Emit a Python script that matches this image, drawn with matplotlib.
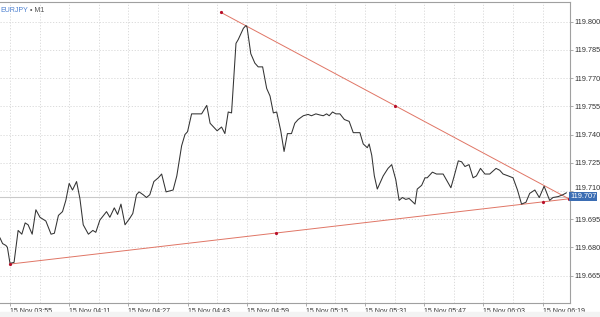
import pandas as pd
import matplotlib.pyplot as plt
import matplotlib.dates as mdates
import matplotlib.transforms as mtransforms
import numpy as np
from matplotlib.patches import Rectangle

# EURJPY M1 close (minutes after 15 Nov 03:55, price)
minutes = [-2.7, -2.0, -1.1, -0.7, 0.0, 1.1, 2.2, 3.2, 4.1, 4.9, 6.0, 7.0, 8.1, 9.7,
           11.1, 12.0, 13.1, 14.2, 15.1, 16.0, 16.9, 18.0, 18.9, 19.8, 21.2, 22.4,
           23.2, 24.3, 26.1, 27.0, 28.2, 29.1, 30.0, 31.1, 32.4, 33.2, 34.2, 34.9,
           36.0, 36.9, 37.8, 38.9, 40.1, 41.0, 42.2, 44.1, 45.1, 46.4, 47.3, 48.0,
           49.1, 51.8, 53.2, 54.1, 56.0, 57.2, 58.1, 59.0, 59.9, 61.1, 61.7, 63.1,
           63.8, 64.1, 65.1, 66.2, 67.1, 68.3, 69.4, 70.3, 71.2, 72.1, 73.2, 74.1,
           75.0, 76.1, 77.0, 77.9, 79.3, 80.6, 81.5, 82.7, 83.8, 84.7, 85.6, 86.3,
           87.2, 88.1, 89.2, 90.4, 91.7, 92.8, 94.6, 95.5, 96.6, 97.1, 97.8, 98.5,
           99.3, 100.9, 102.2, 103.2, 104.3, 105.2, 106.1, 107.0, 107.9, 109.5,
           110.1, 111.3, 112.2, 112.8, 114.2, 115.3, 117.1, 119.2, 120.1, 121.2,
           122.1, 123.0, 124.1, 125.2, 126.1, 127.2, 128.4, 129.7, 131.4, 132.4,
           133.3, 134.7, 136.0, 137.2, 138.3, 139.5, 140.5, 141.9, 143.1, 144.4,
           145.9, 146.8, 148.2, 149.5, 150.4]
prices = [119.685, 119.682, 119.681, 119.680, 119.6715, 119.672, 119.689, 119.687,
          119.693, 119.692, 119.687, 119.700, 119.696, 119.694, 119.687, 119.6875,
          119.697, 119.699, 119.705, 119.714, 119.7105, 119.715, 119.706, 119.692,
          119.687, 119.689, 119.688, 119.6945, 119.699, 119.696, 119.701, 119.6975,
          119.703, 119.692, 119.6955, 119.698, 119.708, 119.7095, 119.708, 119.7065,
          119.708, 119.715, 119.717, 119.719, 119.7095, 119.7105, 119.718, 119.734,
          119.740, 119.7415, 119.751, 119.751, 119.7555, 119.746, 119.742, 119.744,
          119.7405, 119.752, 119.7515, 119.7885, 119.7905, 119.7965, 119.798, 119.797,
          119.783, 119.778, 119.776, 119.776, 119.7645, 119.7605, 119.7515, 119.752,
          119.742, 119.731, 119.7405, 119.7405, 119.746, 119.748, 119.750, 119.7507,
          119.750, 119.751, 119.7504, 119.750, 119.751, 119.750, 119.752, 119.751,
          119.751, 119.748, 119.747, 119.741, 119.741, 119.735, 119.733, 119.735,
          119.729, 119.718, 119.711, 119.718, 119.722, 119.724, 119.716, 119.705,
          119.7065, 119.7055, 119.706, 119.703, 119.711, 119.713, 119.717, 119.717,
          119.720, 119.719, 119.719, 119.7117, 119.718, 119.726, 119.7255, 119.723,
          119.724, 119.717, 119.718, 119.722, 119.719, 119.719, 119.722, 119.721,
          119.719, 119.718, 119.717, 119.7105, 119.703, 119.704, 119.7087, 119.7105,
          119.7065, 119.7125, 119.705, 119.7065, 119.707, 119.708, 119.709]

# trendline anchors
upper_min = [57.0, 151.2]
upper_px = [119.805, 119.7057]
lower_min = [0.0, 144.1]
lower_px = [119.6711, 119.7042]

last_price = 119.707
yticks = [119.665, 119.680, 119.695, 119.710, 119.725, 119.740, 119.755, 119.770, 119.785, 119.800]

t0 = pd.Timestamp('2016-11-15 03:55')
t = t0 + pd.to_timedelta(minutes, unit='min')
to_t = lambda m: t0 + pd.to_timedelta(np.asarray(m), unit='min')

fig = plt.figure(figsize=(6, 3.17), dpi=100)
fig.patches.append(Rectangle((0, 0), 1, 5 / 317, transform=fig.transFigure,
                             color='#f3f3f3', zorder=0))
ax = fig.add_axes([0, 14 / 317, 570 / 600, 301 / 317])

ax.set_xlim(to_t(-2.7), to_t(151.4))
ax.set_ylim(119.6504, 119.8105)

grid_kw = dict(color='#d6d6d6', lw=0.6, ls=(0, (1.5, 2)), zorder=0)
for m in np.arange(0, 152, 8):
    ax.axvline(to_t(m), **grid_kw)
for v in yticks:
    ax.axhline(v, **grid_kw)

# current price line
ax.axhline(last_price, color='#c9c9c9', lw=0.8, zorder=1)

ax.plot(t, prices, color='#333333', lw=0.75, zorder=3)

red = '#e07565'
mk = '#b8102a'
# upper trendline
ut = to_t(upper_min)
ax.plot(ut, upper_px, color=red, lw=0.7, zorder=2)
ax.plot([ut[0], to_t(np.mean(upper_min)), ut[1]],
        [upper_px[0], np.mean(upper_px), upper_px[1]],
        ls='none', marker='o', ms=2.3, mew=0, color=mk, zorder=4, clip_on=False)
# lower trendline (ray to the right edge)
slope = (lower_px[1] - lower_px[0]) / (lower_min[1] - lower_min[0])
ax.plot(to_t([lower_min[0], 151.4]),
        [lower_px[0], lower_px[0] + slope * (151.4 - lower_min[0])],
        color=red, lw=0.7, zorder=2)
ax.plot(to_t([lower_min[0], np.mean(lower_min), lower_min[1]]),
        [lower_px[0], np.mean(lower_px), lower_px[1]],
        ls='none', marker='o', ms=2.3, mew=0, color=mk, zorder=4, clip_on=False)

# axes styling
ax.spines['left'].set_visible(False)
for s in ['top', 'right', 'bottom']:
    ax.spines[s].set_color('#a0a0a0')
    ax.spines[s].set_linewidth(0.8)

ax.yaxis.tick_right()
ax.set_yticks(yticks)
ax.set_yticklabels([f'{v:.3f}' for v in yticks])
ax.set_xticks(to_t(np.arange(0, 145, 16)))
ax.xaxis.set_major_formatter(mdates.DateFormatter('%d %b %H:%M'))
ax.tick_params(axis='y', length=2, width=0.6, color='#a0a0a0', pad=1,
               labelsize=5.3, labelcolor='#333333')
ax.tick_params(axis='x', length=2, width=0.6, color='#a0a0a0', pad=1.5,
               labelsize=5.0, labelcolor='#333333')
for lab in ax.get_yticklabels() + ax.get_xticklabels():
    lab.set_fontfamily('Liberation Sans')
for lab in ax.get_xticklabels():
    lab.set_horizontalalignment('left')

# the 119.710 label sits just above the price tag
lab710 = ax.get_yticklabels()[yticks.index(119.710)]
lab710.set_transform(lab710.get_transform() +
                     mtransforms.ScaledTranslation(0, 2.5 / 72, fig.dpi_scale_trans))

# last price tag
ax.text(1.0, last_price, f'{last_price:.3f}', transform=ax.get_yaxis_transform(),
        ha='left', va='center', fontsize=5.3, color='white', family='Liberation Sans',
        bbox=dict(boxstyle='square,pad=0.15', fc='#3b6db3', ec='none'),
        zorder=10, clip_on=False)

# symbol caption
sym = ax.text(0.0, 0.985, 'EURJPY', transform=ax.transAxes, ha='left', va='top',
              fontsize=5, color='#4a7fd0', family='Liberation Sans')
ax.annotate('\u2022 M1', xy=(1, 1), xycoords=sym, xytext=(1.5, 0),
            textcoords='offset points', ha='left', va='top',
            fontsize=5, color='#555555', family='Liberation Sans')

fig.savefig('out.png', dpi=100)
